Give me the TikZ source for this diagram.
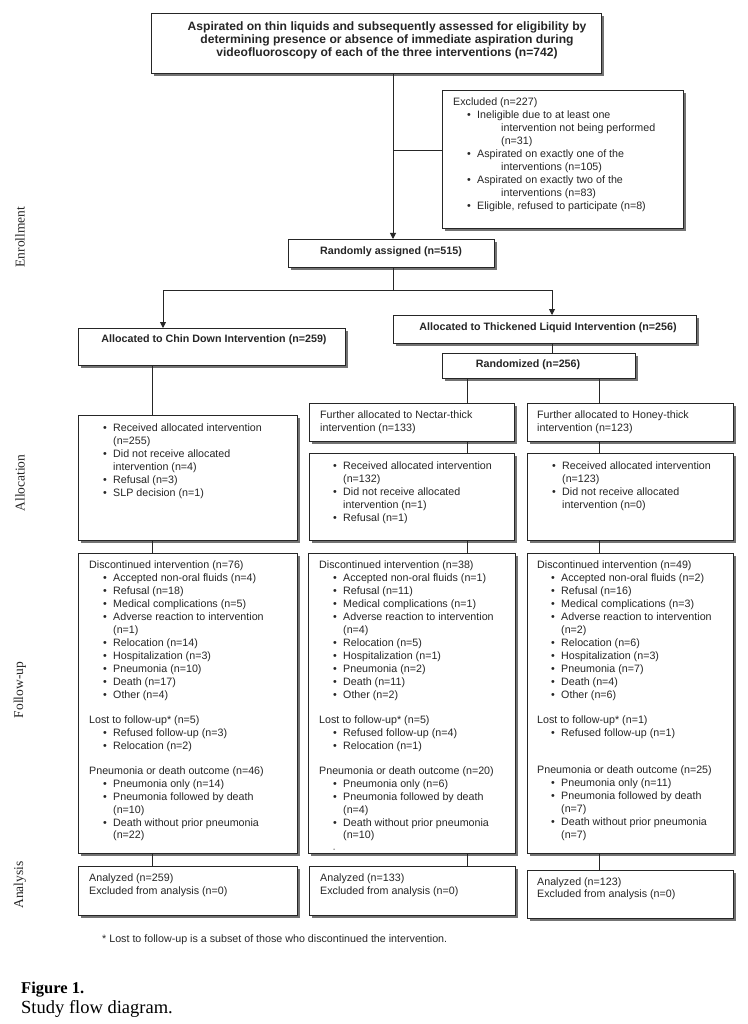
\documentclass[tikz,border=0pt]{standalone}
\usepackage{fontspec}
\setmainfont{Liberation Serif}
\newfontfamily\arial{Liberation Sans}
\usetikzlibrary{arrows.meta,shadows}
\newcommand\bi[1]{\hspace*{14pt}\makebox[10pt][l]{\textbullet}#1}
\newcommand\bc[1]{\hspace*{24pt}#1}
\newcommand\fl{\rule{0pt}{8pt}}
\begin{document}
\begin{tikzpicture}[x=1pt,y=-1pt,
 box/.style={draw=black!85, line width=0.9pt, fill=white, anchor=north west, inner sep=0pt,
   drop shadow={shadow xshift=2.5pt, shadow yshift=-2.5pt, fill=black!55, opacity=1}},
 txt/.style={anchor=north west, inner sep=0pt, align=left, text=black!85, font=\arial\fontsize{10.7}{12.95}\selectfont},
 btxt/.style={anchor=center, inner sep=0pt, align=center, text=black!85, font=\arial\bfseries\fontsize{10.7}{12.95}\selectfont},
 lbl/.style={rotate=90, anchor=center, inner sep=0pt, text=black!85, font=\fontsize{13.5}{16}\selectfont},
 conn/.style={draw=black!85, line width=0.9pt},
 arr/.style={conn, -{Triangle[length=6pt,width=6pt]}}]
\useasboundingbox (0,0) rectangle (747,1024);
\fill[white] (0,0) rectangle (747,1024);

% ---- boxes
\node[box, minimum width=450pt, minimum height=60pt] (top) at (151,13) {};
\node[box, minimum width=241pt, minimum height=138pt] (excl) at (442,90) {};
\node[box, minimum width=206pt, minimum height=28pt] (ra) at (288,239) {};
\node[box, minimum width=267pt, minimum height=37pt] (chin) at (78,328) {};
\node[box, minimum width=303pt, minimum height=28pt] (thick) at (393,315) {};
\node[box, minimum width=193pt, minimum height=25pt] (randz) at (442,353) {};
\node[box, minimum width=205pt, minimum height=38pt] (nect) at (309,403) {};
\node[box, minimum width=206pt, minimum height=38pt] (honey) at (527,403) {};
\node[box, minimum width=219pt, minimum height=125pt] (chinAl) at (78,415) {};
\node[box, minimum width=205pt, minimum height=87pt] (nectAl) at (309,453) {};
\node[box, minimum width=206pt, minimum height=87pt] (honeyAl) at (527,453) {};
\node[box, minimum width=219pt, minimum height=300pt] (chinFU) at (78,553) {};
\node[box, minimum width=207pt, minimum height=300pt] (nectFU) at (308,553) {};
\node[box, minimum width=206pt, minimum height=300pt] (honeyFU) at (527,553) {};
\node[box, minimum width=219pt, minimum height=49pt] (chinAn) at (78,866) {};
\node[box, minimum width=206pt, minimum height=49pt] (nectAn) at (309,866) {};
\node[box, minimum width=206pt, minimum height=48pt] (honeyAn) at (527,870) {};

% ---- connectors
\coordinate (cx) at (393,0);
\coordinate (ex) at (393,150);
\coordinate (sp) at (393,290);
\coordinate (spL) at (163,290);
\coordinate (spR) at (552,290);
\coordinate (cL) at (152,0);
\coordinate (cN) at (467,0);
\coordinate (cH) at (599,0);
\draw[arr] (top.south -| cx) -- (ra.north -| cx);
\draw[conn] (ex) -- (ex -| excl.west);
\draw[conn] (ra.south -| cx) -- (sp);
\draw[conn] (spL) -- (spR);
\draw[arr] (spL) -- (spL |- chin.north);
\draw[arr] (spR) -- (spR |- thick.north);
\draw[conn] (thick.south -| spR) -- (randz.north -| spR);
\draw[conn] (randz.south -| cN) -- (nect.north -| cN);
\draw[conn] (randz.south -| cH) -- (honey.north -| cH);
\draw[conn] (chin.south -| cL) -- (chinAl.north -| cL);
\draw[conn] (chinAl.south -| cL) -- (chinFU.north -| cL);
\draw[conn] (chinFU.south -| cL) -- (chinAn.north -| cL);
\draw[conn] (nect.south -| cN) -- (nectAl.north -| cN);
\draw[conn] (nectAl.south -| cN) -- (nectFU.north -| cN);
\draw[conn] (nectFU.south -| cN) -- (nectAn.north -| cN);
\draw[conn] (honey.south -| cH) -- (honeyAl.north -| cH);
\draw[conn] (honeyAl.south -| cH) -- (honeyFU.north -| cH);
\draw[conn] (honeyFU.south -| cH) -- (honeyAn.north -| cH);

% ---- texts
\node[btxt, anchor=north, font=\arial\bfseries\fontsize{12.1}{12.95}\selectfont] (ttop) at (387,21.4) {\fl Aspirated on thin liquids and subsequently assessed for eligibility by\\determining presence or absence of immediate aspiration during\\videofluoroscopy of each of the three interventions (n=742)};
\node[txt] (texcl) at (453,97.7) {\fl Excluded (n=227)\\
\bi{Ineligible due to at least one}\\
\hspace*{48pt}intervention not being performed\\
\hspace*{48pt}(n=31)\\
\bi{Aspirated on exactly one of the}\\
\hspace*{48pt}interventions (n=105)\\
\bi{Aspirated on exactly two of the}\\
\hspace*{48pt}interventions (n=83)\\
\bi{Eligible, refused to participate (n=8)}};
\node[btxt] (tra) at (391,252) {Randomly assigned (n=515)};
\node[btxt] (tchin) at (214,340) {Allocated to Chin Down Intervention (n=259)};
\node[btxt] (tthick) at (548,328) {Allocated to Thickened Liquid Intervention (n=256)};
\node[btxt] (trandz) at (528,365) {Randomized (n=256)};
\node[txt] (tnect) at (320,410.7) {\fl Further allocated to Nectar-thick\\intervention (n=133)};
\node[txt] (thoney) at (537,410.7) {\fl Further allocated to Honey-thick\\intervention (n=123)};
\node[txt] (tchinAl) at (89,423.7) {\fl\bi{Received allocated intervention}\\
\bc{(n=255)}\\
\bi{Did not receive allocated}\\
\bc{intervention (n=4)}\\
\bi{Refusal (n=3)}\\
\bi{SLP decision (n=1)}};
\node[txt] (tnectAl) at (319,461.4) {\fl\bi{Received allocated intervention}\\
\bc{(n=132)}\\
\bi{Did not receive allocated}\\
\bc{intervention (n=1)}\\
\bi{Refusal (n=1)}};
\node[txt] (thoneyAl) at (538,461.4) {\fl\bi{Received allocated intervention}\\
\bc{(n=123)}\\
\bi{Did not receive allocated}\\
\bc{intervention (n=0)}};
\node[txt] (tchinFU) at (89,560.7) {\fl Discontinued intervention (n=76)\\
\bi{Accepted non-oral fluids (n=4)}\\
\bi{Refusal (n=18)}\\
\bi{Medical complications (n=5)}\\
\bi{Adverse reaction to intervention}\\
\bc{(n=1)}\\
\bi{Relocation (n=14)}\\
\bi{Hospitalization (n=3)}\\
\bi{Pneumonia (n=10)}\\
\bi{Death (n=17)}\\
\bi{Other (n=4)}\\[12pt]
Lost to follow-up* (n=5)\\
\bi{Refused follow-up (n=3)}\\
\bi{Relocation (n=2)}\\[12pt]
Pneumonia or death outcome (n=46)\\
\bi{Pneumonia only (n=14)}\\
\bi{Pneumonia followed by death}\\
\bc{(n=10)}\\
\bi{Death without prior pneumonia}\\
\bc{(n=22)}};
\node[txt] (tnectFU) at (319,560.7) {\fl Discontinued intervention (n=38)\\
\bi{Accepted non-oral fluids (n=1)}\\
\bi{Refusal (n=11)}\\
\bi{Medical complications (n=1)}\\
\bi{Adverse reaction to intervention}\\
\bc{(n=4)}\\
\bi{Relocation (n=5)}\\
\bi{Hospitalization (n=1)}\\
\bi{Pneumonia (n=2)}\\
\bi{Death (n=11)}\\
\bi{Other (n=2)}\\[12pt]
Lost to follow-up* (n=5)\\
\bi{Refused follow-up (n=4)}\\
\bi{Relocation (n=1)}\\[12pt]
Pneumonia or death outcome (n=20)\\
\bi{Pneumonia only (n=6)}\\
\bi{Pneumonia followed by death}\\
\bc{(n=4)}\\
\bi{Death without prior pneumonia}\\
\bc{(n=10)}\\
\hspace*{14pt}{\fontsize{7}{7}\selectfont -}};
\node[txt] (thoneyFU) at (537,560.7) {\fl Discontinued intervention (n=49)\\
\bi{Accepted non-oral fluids (n=2)}\\
\bi{Refusal (n=16)}\\
\bi{Medical complications (n=3)}\\
\bi{Adverse reaction to intervention}\\
\bc{(n=2)}\\
\bi{Relocation (n=6)}\\
\bi{Hospitalization (n=3)}\\
\bi{Pneumonia (n=7)}\\
\bi{Death (n=4)}\\
\bi{Other (n=6)}\\[12pt]
Lost to follow-up* (n=1)\\
\bi{Refused follow-up (n=1)}\\[24pt]
Pneumonia or death outcome (n=25)\\
\bi{Pneumonia only (n=11)}\\
\bi{Pneumonia followed by death}\\
\bc{(n=7)}\\
\bi{Death without prior pneumonia}\\
\bc{(n=7)}};
\node[txt, font=\arial\fontsize{10.7}{12.4}\selectfont] (tchinAn) at (89,873.4) {\fl Analyzed (n=259)\\Excluded from analysis (n=0)};
\node[txt, font=\arial\fontsize{10.7}{12.4}\selectfont] (tnectAn) at (320,873.4) {\fl Analyzed (n=133)\\Excluded from analysis (n=0)};
\node[txt, font=\arial\fontsize{10.7}{12.4}\selectfont] (thoneyAn) at (537,877) {\fl Analyzed (n=123)\\Excluded from analysis (n=0)};

% ---- footnote, stage labels, caption
\node[anchor=base west, inner sep=0pt, text=black!85, font=\arial\fontsize{10.7}{12}\selectfont] (foot) at (102,942.8) {* Lost to follow-up is a subset of those who discontinued the intervention.};
\node[lbl] (lEnr) at (20,237) {Enrollment};
\node[lbl] (lAll) at (20,483) {Allocation};
\node[lbl] (lFol) at (20,690) {Follow-up};
\node[lbl] (lAna) at (20,885) {Analysis};
\node[anchor=base west, inner sep=0pt, font=\bfseries\fontsize{16.5}{19}\selectfont] (cap1) at (21,993) {Figure 1.};
\node[anchor=base west, inner sep=0pt, font=\fontsize{18.5}{21}\selectfont] (cap2) at (21,1013) {Study flow diagram.};
\end{tikzpicture}
\end{document}
